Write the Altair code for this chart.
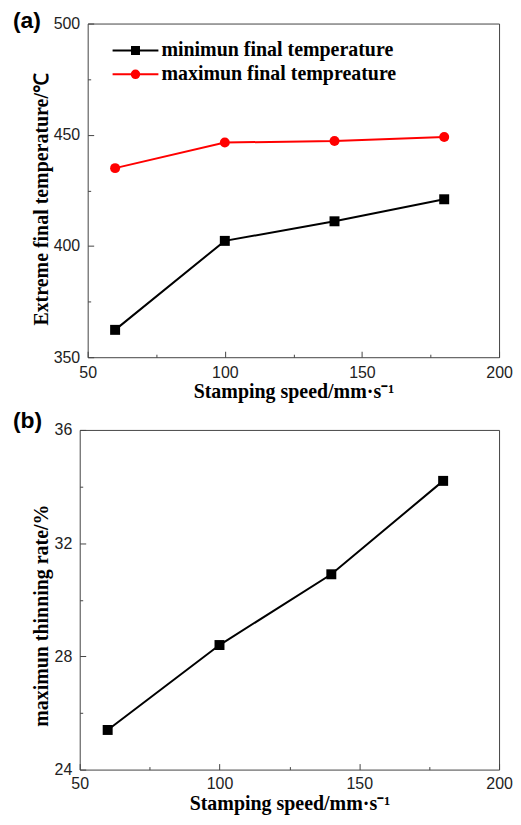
import altair as alt
import pandas as pd

# ---------------- data ----------------
speeds = [60, 100, 140, 180]
min_temp = [362.3, 402.3, 411.1, 421.0]
max_temp = [435.0, 446.5, 447.2, 449.0]
thinning = [25.4, 28.4, 30.9, 34.2]
series_names = ["minimun final temperature", "maximun final tempreature"]
series_colors = ["#000000", "#ff0000"]
series_shapes = ["square", "circle"]
x_ticks = [50, 75, 100, 125, 150, 175, 200]
x_labels = [50, 100, 150, 200]
temp_ticks = [350, 375, 400, 425, 450, 475, 500]
temp_labels = [350, 400, 450, 500]
thin_ticks = [24, 26, 28, 30, 32, 34, 36]
thin_labels = [24, 28, 32, 36]
panel_labels = ["(a)", "(b)"]
x_title = "Stamping speed/mm·s⁻¹"
temp_title = "Extreme final temperature/℃"
thin_title = "maximun thinning rate/%"

temp_df = pd.DataFrame({
    "speed": speeds * 2,
    "value": min_temp + max_temp,
    "series": [series_names[0]] * len(speeds) + [series_names[1]] * len(speeds),
})
thin_df = pd.DataFrame({"speed": speeds, "value": thinning})

# legend symbols: line with marker in the middle
legend_paths = [
    "M-4.6,0H4.6M-0.7,-0.7H0.7V0.7H-0.7Z",
    "M-4.6,0H4.6M0.75,0A0.75,0.75,0,1,1,-0.75,0A0.75,0.75,0,1,1,0.75,0Z",
]

FRAME = "#444444"
TITLE_FONT = "Liberation Serif"
LABEL_FONT = "Liberation Sans"


def main_axis(values, title, orient, title_pad, label_pad, **kw):
    return alt.Axis(values=values, title=title, orient=orient, ticks=False, domain=False, grid=False,
                    labelFont=LABEL_FONT, labelFontSize=16, labelColor="#222222",
                    labelPadding=label_pad, labelFlush=False, titleFont=TITLE_FONT,
                    titleFontSize=20, titleFontWeight="bold", titleColor="#000000",
                    titlePadding=title_pad, labelOverlap=False, minExtent=0.5, **kw)


def tick_axis(values, orient, offset, major_test):
    # inward ticks + frame edge (drawn on the far side of the plot by a negative offset)
    return alt.Axis(values=values, orient=orient, offset=offset, labels=False, domain=True,
                    domainColor=FRAME, domainWidth=1, grid=False, title=None, ticks=True,
                    tickColor=FRAME, tickWidth=1, minExtent=0.5,
                    tickSize={"condition": {"test": major_test, "value": 6}, "value": 3})


def frame_axis(orient, offset):
    # top / right frame edges, drawn by bottom / left axes moved across the plot
    return alt.Axis(orient=orient, offset=offset, labels=False, ticks=False, domain=True,
                    domainColor=FRAME, domainWidth=1, grid=False, title=None, minExtent=0.5)


# ---------------- panel (a) ----------------
W1, H1 = 413, 335
sc_x1 = alt.Scale(domain=[50, 200], nice=False)
sc_temp = alt.Scale(domain=[350, 500], nice=False, zero=False)
color_scale = alt.Scale(domain=series_names, range=series_colors)

base_t = alt.Chart(temp_df)
line_t = base_t.mark_line(strokeWidth=2).encode(
    x=alt.X("speed:Q", scale=sc_x1, axis=main_axis(x_labels, x_title, "bottom", 1, 7)),
    y=alt.Y("value:Q", scale=sc_temp,
            axis=main_axis(temp_labels, temp_title, "left", 2, 8, titleY=176)),
    color=alt.Color("series:N", scale=color_scale, legend=None),
)
pts_t = base_t.mark_point(filled=True, size=100, opacity=1).encode(
    x=alt.X("speed:Q", scale=sc_x1, axis=tick_axis(x_ticks, "top", -H1, "datum.value % 50 === 0")),
    y=alt.Y("value:Q", scale=sc_temp, axis=tick_axis(temp_ticks, "right", -W1, "datum.value % 50 === 0")),
    color=alt.Color("series:N", scale=color_scale, legend=None),
    shape=alt.Shape("series:N", scale=alt.Scale(domain=series_names, range=series_shapes), legend=None),
)
leg = alt.Legend(title=None, orient="none", legendX=38, legendY=17, labelFont=TITLE_FONT,
                 labelFontSize=20, labelFontWeight="bold", labelColor="#000000", labelLimit=500,
                 labelOffset=16, symbolSize=100, symbolStrokeWidth=2, symbolOpacity=1,
                 rowPadding=4, padding=0)
leg_t = base_t.mark_point(filled=False, size=100, opacity=0, strokeWidth=2).encode(
    x=alt.X("speed:Q", scale=sc_x1, axis=frame_axis("bottom", -H1)),
    y=alt.Y("value:Q", scale=sc_temp, axis=frame_axis("left", -W1)),
    color=alt.Color("series:N", scale=color_scale, legend=leg),
    fill=alt.Fill("series:N", scale=color_scale, legend=leg),
    shape=alt.Shape("series:N", scale=alt.Scale(domain=series_names, range=legend_paths), legend=leg),
)
lab_a = alt.Chart(pd.DataFrame({"label": [panel_labels[0]]})).mark_text(
    font=LABEL_FONT, fontSize=23, fontWeight="bold", align="left", baseline="middle", color="#000000"
).encode(text="label:N", x=alt.value(-75), y=alt.value(-3))

top = alt.layer(line_t, pts_t, leg_t, lab_a).resolve_scale(
    color="independent", shape="independent", fill="independent"
).resolve_axis(x="independent", y="independent").properties(width=W1, height=H1)

# ---------------- panel (b) ----------------
# plot group shares the left edge of panel (a); the frame of (b) starts 8 px further left
W2, H2, SHIFT = 413, 341, 8
sc_x2 = alt.Scale(domain=[50, 200], nice=False, range=[-SHIFT, W2])
sc_thin = alt.Scale(domain=[24, 36], nice=False, zero=False)
base_b = alt.Chart(thin_df)
line_b = base_b.mark_line(strokeWidth=2, color="#000000").encode(
    x=alt.X("speed:Q", scale=sc_x2, axis=main_axis(x_labels, x_title, "bottom", 2, 6)),
    y=alt.Y("value:Q", scale=sc_thin,
            axis=main_axis(thin_labels, thin_title, "left", 3, 8, titleY=186, offset=SHIFT)),
)
pts_b = base_b.mark_point(filled=True, size=100, opacity=1, shape="square", color="#000000").encode(
    x=alt.X("speed:Q", scale=sc_x2, axis=tick_axis(x_ticks, "top", -H2, "datum.value % 50 === 0")),
    y=alt.Y("value:Q", scale=sc_thin,
            axis=tick_axis(thin_ticks, "right", -(W2 + SHIFT), "datum.value % 4 === 0")),
)
frm_b = base_b.mark_point(opacity=0).encode(
    x=alt.X("speed:Q", scale=sc_x2, axis=frame_axis("bottom", -H2)),
    y=alt.Y("value:Q", scale=sc_thin, axis=frame_axis("left", -W2)),
)
lab_b = alt.Chart(pd.DataFrame({"label": [panel_labels[1]]})).mark_text(
    font=LABEL_FONT, fontSize=23, fontWeight="bold", align="left", baseline="middle", color="#000000"
).encode(text="label:N", x=alt.value(-75), y=alt.value(-9))

bottom = alt.layer(line_b, pts_b, frm_b, lab_b).resolve_axis(
    x="independent", y="independent").properties(width=W2, height=H2)

chart = alt.vconcat(
    top, bottom, spacing=9,
    padding={"left": 5, "top": 0, "right": 0, "bottom": 0},
).configure_view(stroke=None).configure_axis(grid=False)

chart.save("out.html", embed_options={"renderer": "svg", "actions": False})
